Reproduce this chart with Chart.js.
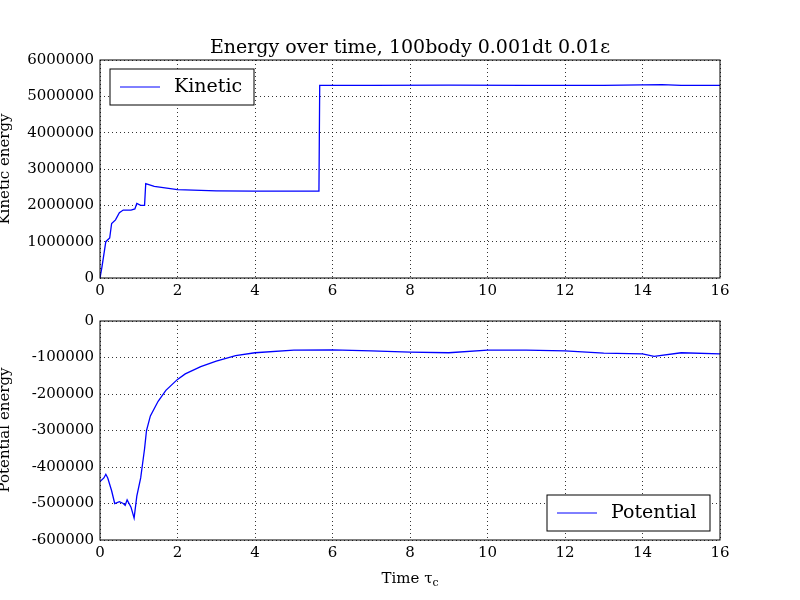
<!DOCTYPE html>
<html><head><meta charset="utf-8">
<script src="https://cdn.jsdelivr.net/npm/chart.js@4"></script>
<style>
body{margin:0;background:#fff;width:800px;height:600px;position:relative;overflow:hidden}
canvas{position:absolute;left:0}
</style></head><body>
<div style="position:absolute;left:0;top:0;width:800px;height:300px"><canvas id="top"></canvas></div>
<div style="position:absolute;left:0;top:300px;width:800px;height:300px"><canvas id="bot"></canvas></div>
<script>
// kinetic energy
const kinT = [0,0.05,0.15,0.25,0.3,0.4,0.5,0.6,0.8,0.9,0.95,1.05,1.15,1.18,1.4,2,3,4,5.65,5.67,7,9,11,13,14.5,15,16];
const kinE = [0,300000,1000000,1100000,1500000,1600000,1800000,1870000,1870000,1900000,2050000,2000000,2000000,2600000,2520000,2430000,2400000,2390000,2390000,5300000,5300000,5310000,5300000,5300000,5320000,5300000,5300000];
// potential energy
const potT = [0,0.1,0.15,0.2,0.3,0.38,0.5,0.6,0.65,0.7,0.8,0.88,0.95,1.05,1.15,1.2,1.3,1.5,1.7,2,2.2,2.6,3,3.5,4,5,6,7,8,9,10,11,12,13,14,14.3,15,16];
const potE = [-440000,-430000,-420000,-430000,-465000,-500000,-495000,-500000,-505000,-490000,-510000,-540000,-480000,-430000,-350000,-300000,-260000,-220000,-190000,-160000,-145000,-125000,-110000,-95000,-87000,-80000,-79000,-82000,-85000,-87000,-80000,-80000,-82000,-88000,-90000,-97000,-87000,-90000];
const xTicks = [0,2,4,6,8,10,12,14,16];

const FONT = "'DejaVu Serif', serif";

function pts(t, v) { return t.map((x, i) => ({x: x, y: v[i]})); }

function textPlugin(draw) {
    return { id: 'txt', afterDraw(chart) {
        const c = chart.ctx, a = chart.chartArea;
        c.save();
        c.strokeStyle = '#000'; c.lineWidth = 1;
        c.strokeRect(a.left, a.top, a.right - a.left, a.bottom - a.top);
        draw(c, a);
        c.restore();
    }};
}

function legendBox(c, x, y, w, label) {
    c.fillStyle = '#fff'; c.fillRect(x, y, w, 36);
    c.strokeRect(x, y, w, 36);
    c.strokeStyle = '#0000ff'; c.beginPath(); c.moveTo(x + 10, y + 18); c.lineTo(x + 50, y + 18); c.stroke();
    c.fillStyle = '#000'; c.font = '19px ' + FONT; c.textBaseline = 'middle';
    c.fillText(label, x + 64, y + 18);
}

function makeChart(id, data, ymin, ymax, step, pad, xh, draw) {
    return new Chart(document.getElementById(id), {
        type: 'scatter',
        data: { datasets: [{ data: data, showLine: true, borderColor: '#0000ff', borderWidth: 1.3, pointRadius: 0, tension: 0 }] },
        options: {
            responsive: true, maintainAspectRatio: false, animation: false,
            layout: { padding: { top: pad, right: 80, left: 0, bottom: 0 } },
            plugins: { legend: { display: false }, tooltip: { enabled: false } },
            scales: {
                x: { type: 'linear', min: 0, max: 16,
                    afterBuildTicks: s => { s.ticks = xTicks.map(v => ({value: v})); },
                    afterFit: s => { s.height = xh; },
                    grid: { color: '#000', lineWidth: 0.8, drawTicks: false },
                    border: { display: false, dash: [1, 3] },
                    ticks: { color: '#000', font: { family: FONT, size: 15 }, padding: 4, maxRotation: 0 } },
                y: { min: ymin, max: ymax,
                    afterFit: s => { s.width = 100; },
                    grid: { color: '#000', lineWidth: 0.8, drawTicks: false },
                    border: { display: false, dash: [1, 3] },
                    ticks: { stepSize: step, color: '#000', font: { family: FONT, size: 15 }, padding: 6,
                        callback: v => String(v) } }
            }
        },
        plugins: [textPlugin(draw)]
    });
}

makeChart('top', pts(kinT, kinE), 0, 6000000, 1000000, 60, 22, (c, a) => {
    c.fillStyle = '#000'; c.font = '19px ' + FONT; c.textAlign = 'center'; c.textBaseline = 'alphabetic';
    c.fillText('Energy over time, 100body 0.001dt 0.01ε', 410, 53);
    c.save(); c.translate(9, 169); c.rotate(-Math.PI / 2); c.font = '15px ' + FONT;
    c.fillText('Kinetic energy', 0, 0); c.restore();
    c.textAlign = 'left';
    legendBox(c, 110, 69, 144, 'Kinetic');
});

makeChart('bot', pts(potT, potE), -600000, 0, 100000, 21, 60, (c, a) => {
    c.fillStyle = '#000'; c.font = '15px ' + FONT; c.textBaseline = 'alphabetic';
    c.textAlign = 'left';
    const w = c.measureText('Time τ').width;
    c.fillText('Time τ', 410 - (w + 6) / 2, 283);
    c.font = '11px ' + FONT; c.fillText('c', 410 - (w + 6) / 2 + w, 286);
    c.font = '15px ' + FONT; c.textAlign = 'center';
    c.save(); c.translate(9, 130); c.rotate(-Math.PI / 2);
    c.fillText('Potential energy', 0, 0); c.restore();
    c.textAlign = 'left';
    legendBox(c, 547, 195, 163, 'Potential');
});
</script>
</body></html>
